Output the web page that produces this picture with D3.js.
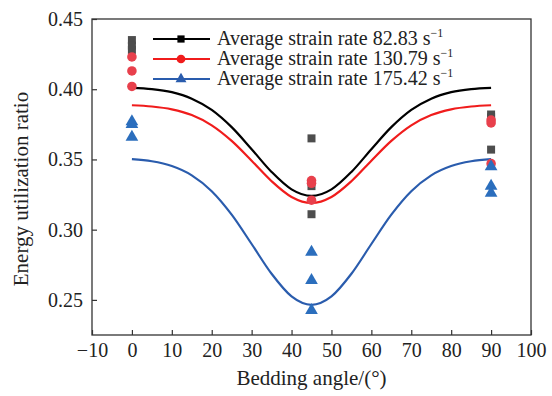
<!DOCTYPE html>
<html><head><meta charset="utf-8">
<script src="https://cdn.jsdelivr.net/npm/d3@7"></script>
<style>body{margin:0;background:#fff}svg{display:block}text{font-family:"Liberation Serif","Times New Roman",serif;fill:#222}</style>
</head><body><svg id="c" width="552" height="396"></svg>
<script>
const xTicks=[-10,0,10,20,30,40,50,60,70,80,90,100];
const yTicks=[0.25,0.30,0.35,0.40,0.45];
const seriesNames=["Average strain rate 82.83 s","Average strain rate 130.79 s","Average strain rate 175.42 s"];
// measured points
const ptsBlackX=[0,0,0,45,45,45,90,90,90];
const ptsBlackY=[0.435,0.431,0.428,0.365,0.331,0.311,0.382,0.380,0.357];
const ptsRedX=[0,0,0,45,45,45,90,90,90];
const ptsRedY=[0.423,0.413,0.402,0.335,0.333,0.321,0.378,0.376,0.347];
const ptsBlueX=[0,0,0,45,45,45,90,90,90];
const ptsBlueY=[0.377,0.375,0.366,0.284,0.264,0.2425,0.345,0.331,0.326];
// fitted curves
const curveX=[0,5,10,15,20,25,30,35,40,45,50,55,60,65,70,75,80,85,90];
const curveBlack=[0.401,0.4001,0.3979,0.3933,0.3853,0.373,0.3573,0.3411,0.3287,0.324,0.3287,0.3411,0.3573,0.373,0.3853,0.3933,0.3979,0.4001,0.401];
const curveRed=[0.3886,0.3877,0.3857,0.3816,0.3743,0.3632,0.3491,0.3345,0.3233,0.319,0.3233,0.3345,0.3491,0.3632,0.3743,0.3816,0.3857,0.3877,0.3886];
const curveBlue=[0.3502,0.3487,0.3453,0.3387,0.3274,0.3107,0.2898,0.2686,0.2525,0.2465,0.2525,0.2686,0.2898,0.3107,0.3274,0.3387,0.3453,0.3487,0.3502];

const svg=d3.select("#c");
const L=92,R=531,T=19,B=335;
const x=d3.scaleLinear().domain([-10,100]).range([L,R]);
const y=d3.scaleLinear().domain([0.225,0.45]).range([B,T]);

svg.append("rect").attr("x",L).attr("y",T).attr("width",R-L).attr("height",B-T).attr("fill","none").attr("stroke","#333").attr("stroke-width",1.3);

const xa=svg.append("g").attr("transform",`translate(0,${B})`).call(d3.axisBottom(x).tickValues(xTicks).tickSize(-5).tickPadding(8).tickFormat(d=>d<0?"\u2212"+Math.abs(d):d));
const ya=svg.append("g").attr("transform",`translate(${L},0)`).call(d3.axisLeft(y).tickValues(yTicks).tickSize(-5).tickPadding(9).tickFormat(d3.format(".2f")));
[xa,ya].forEach(a=>{a.select(".domain").remove();a.selectAll("line").attr("stroke","#333").attr("stroke-width",1.2);a.selectAll("text").style("font-size","20px").attr("fill","#222").style("font-family","'Liberation Serif',serif");});

svg.append("text").attr("x",(L+R)/2).attr("y",385).attr("text-anchor","middle").style("font-size","21px").text("Bedding angle/(°)");
svg.append("text").attr("transform",`translate(28,189) rotate(-90)`).attr("text-anchor","middle").style("font-size","21px").text("Energy utilization ratio");

const cols=["#000000","#f01c1c","#2a5cad"];
const mcols=["#4d4d4d","#e8404c","#2b6ebd"];
const curves=[curveBlack,curveRed,curveBlue];
const line=d3.line().curve(d3.curveMonotoneX);
curves.forEach((c,i)=>{
  svg.append("path").attr("d",line(curveX.map((v,j)=>[x(v),y(c[j])]))).attr("fill","none").attr("stroke",cols[i]).attr("stroke-width",2.2);
});
const sym=[d3.symbolSquare,d3.symbolCircle,d3.symbolTriangle];
const size=[64,72,70];
const pts=[[ptsBlackX,ptsBlackY],[ptsRedX,ptsRedY],[ptsBlueX,ptsBlueY]];
pts.forEach((p,i)=>{
  p[0].forEach((v,j)=>{
    svg.append("path").attr("d",d3.symbol(sym[i],size[i])()).attr("transform",`translate(${x(v)},${y(p[1][j])})`).attr("fill",mcols[i]);
  });
});

const lg=svg.append("g");
[39,59,79].forEach((yy,i)=>{
  lg.append("line").attr("x1",153).attr("x2",210).attr("y1",yy).attr("y2",yy).attr("stroke",cols[i]).attr("stroke-width",2);
  lg.append("path").attr("d",d3.symbol(sym[i],i==1?60:52)()).attr("transform",`translate(181,${yy})`).attr("fill",i==0?"#000":i==1?"#f01c1c":"#2a5cad");
  const t=lg.append("text").attr("x",217).attr("y",yy+6).style("font-size","20px").text(seriesNames[i]);
  t.append("tspan").attr("dy",-8).style("font-size","12px").text("\u22121");
});
</script></body></html>
